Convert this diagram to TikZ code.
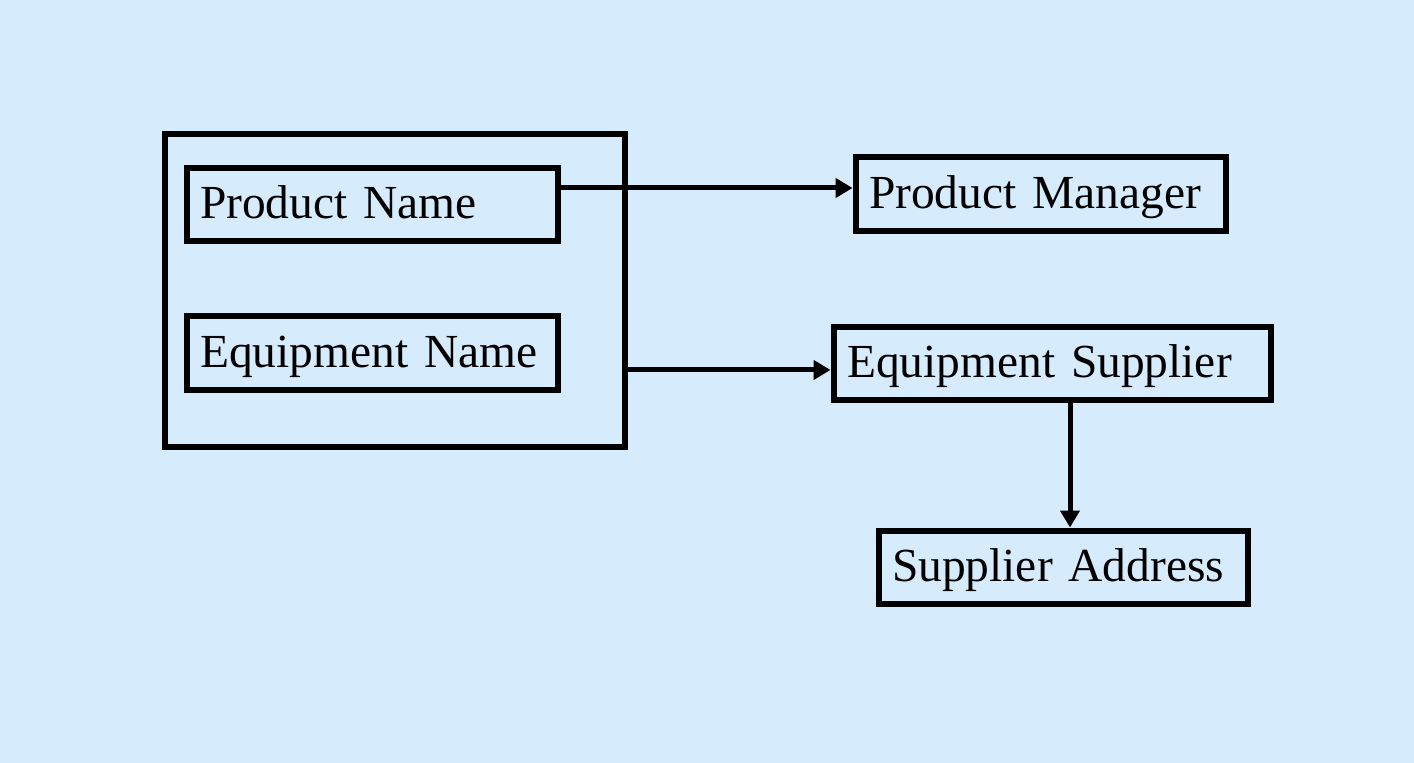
\documentclass[tikz,border=0pt]{standalone}
\usepackage{fontspec}
\setmainfont{Liberation Serif}
\usetikzlibrary{arrows.meta, positioning}
\definecolor{cback}{RGB}{214,235,252}

\begin{document}
\begin{tikzpicture}[
    x=0.02cm, y=-0.02cm,
    every node/.style={font=\fontsize{27}{32}\selectfont},
    box/.style={draw, line width=0.12cm, inner xsep=0.27cm, inner ysep=0pt, align=left,
        text height=22pt, text depth=5.6pt},
    arr/.style={-{Triangle[length=0.34cm, width=0.38cm]}, line width=0.1cm}
]
%% Background
\fill[cback] (0,0) rectangle (1414,763);

%% Left group
\node[draw, line width=0.12cm, minimum width=9.22cm, minimum height=6.28cm] (grp) at (395,290.5) {};
\node[box, text width=6.9cm, minimum height=1.48cm] (pn) at (372.5,204.5) {Product Name};
\node[box, text width=6.9cm, minimum height=1.48cm, below=1.38cm of pn] (en) {Equipment Name};

%% Right side
\node[box, text width=6.88cm, minimum height=1.5cm] (pm) at (1041,194) {Product Manager};
\node[box, text width=8.22cm, minimum height=1.48cm] (es) at (1052.5,363.5) {Equipment Supplier};
\node[box, text width=6.86cm, minimum height=1.48cm] (sa) at (1063.5,567.5) {Supplier Address};

%% Arrows
\draw[arr] ([yshift=0.33cm]pn.east) -- ([yshift=0.33cm]pn.east -| pm.west);
\draw[arr] ([yshift=-1.59cm]grp.east) -- ([yshift=-1.59cm]grp.east -| es.west);
\draw[arr] ([xshift=0.35cm]es.south) -- ([xshift=0.35cm]es.south |- sa.north);
\end{tikzpicture}
\end{document}
